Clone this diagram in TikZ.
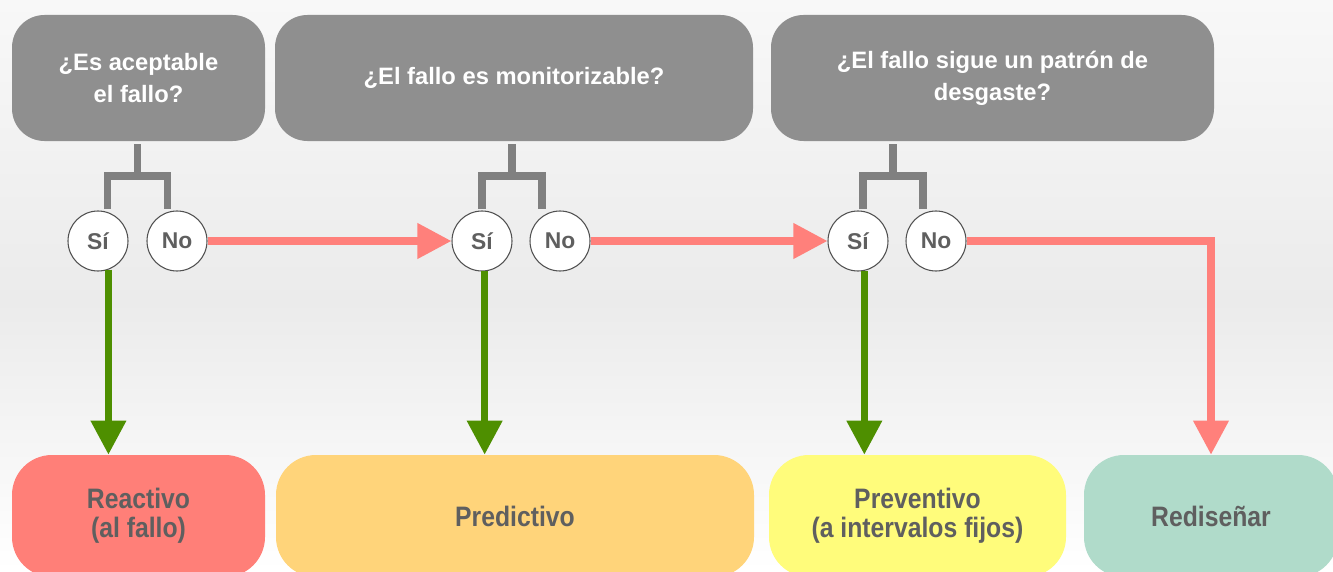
\documentclass[tikz,border=0pt]{standalone}
\usepackage{fontspec}
\setmainfont{Liberation Sans}
\newfontfamily\narrowfont[FakeStretch=0.88]{Liberation Sans}
\usetikzlibrary{arrows.meta}
\definecolor{askgray}{HTML}{8F8F8F}
\definecolor{forkgray}{HTML}{808080}
\definecolor{ringgray}{HTML}{505050}
\definecolor{txtgray}{HTML}{5F5F5F}
\definecolor{nored}{HTML}{FF807B}
\definecolor{yesgreen}{HTML}{4E8F00}
\definecolor{reactred}{HTML}{FF7F78}
\definecolor{predorange}{HTML}{FFD47A}
\definecolor{prevyellow}{HTML}{FFFC7B}
\definecolor{redgreen}{HTML}{B0DBCA}
\definecolor{bgtop}{HTML}{F8F8F8}
\definecolor{bgmid}{HTML}{EBEBEB}

\begin{document}
\begin{tikzpicture}[
	ask/.style={rectangle, rounded corners=0.65cm, fill=askgray, text=white, align=center,
		minimum height=2.52cm, font=\bfseries\fontsize{13.5}{18}\selectfont},
	ans/.style={circle, draw=ringgray, line width=0.6pt, fill=white, minimum size=1.2cm,
		inner sep=0pt, text=txtgray, font=\bfseries\fontsize{13}{15}\selectfont},
	goal/.style={rectangle, rounded corners=0.8cm, minimum height=2.44cm, text=txtgray,
		align=center, font=\narrowfont\bfseries\fontsize{16}{16.5}\selectfont},
	fork/.style={draw=forkgray, line width=4pt},
	yes/.style={draw=yesgreen, line width=4pt, -{Triangle[length=0.68cm,width=0.68cm]}},
	nope/.style={draw=nored, line width=4pt, -{Triangle[length=0.68cm,width=0.68cm]}}
	]
	\clip (0,0) rectangle (26.66,11.42);
	\shade[top color=bgtop, bottom color=bgmid] (0,5.4) rectangle (26.66,11.42);
	\shade[top color=bgmid, bottom color=white] (0,0) rectangle (26.66,5.4);
	
	% preguntas
	\node[ask, minimum width=5.06cm] (q1) at (2.77,9.86) {¿Es aceptable\\el fallo?};
	\node[ask, minimum width=9.56cm] (q2) at (10.28,9.86) {¿El fallo es monitorizable?};
	\node[ask, minimum width=8.86cm] (q3) at (19.85,9.86) {¿El fallo sigue un patrón de\\desgaste?};
	
	% respuestas
	\node[ans] (si1) at (1.96,6.60) {Sí};
	\node[ans] (no1) at (3.54,6.60) {No};
	\node[ans] (si2) at (9.64,6.60) {Sí};
	\node[ans] (no2) at (11.20,6.60) {No};
	\node[ans] (si3) at (17.16,6.60) {Sí};
	\node[ans] (no3) at (18.72,6.60) {No};
	
	% resultados
	\node[goal, fill=reactred, minimum width=5.06cm] (reactivo) at (2.77,1.10) {Reactivo\\(al fallo)};
	\node[goal, fill=predorange, minimum width=9.56cm] (predictivo) at (10.30,1.10) {Predictivo};
	\node[goal, fill=prevyellow, minimum width=5.94cm] (preventivo) at (18.35,1.10) {Preventivo\\(a intervalos fijos)};
	\node[goal, fill=redgreen, minimum width=5.08cm] (redisenar) at (24.22,1.10) {Rediseñar};
	
	% horquillas
	\foreach \i/\x in {1/2.75, 2/10.24, 3/17.86} {
		\coordinate (f\i) at (\x,7.90);
		\draw[fork] ([yshift=-0.06cm]q\i.south -| f\i) -- (f\i);
		\draw[fork] ([shift={(-0.6,-0.66)}]f\i) -- ++(0,0.66) -- ++(1.2,0) -- ++(0,-0.66);
	}
	
	% flechas
	\draw[nope] (no1) -- (si2);
	\draw[nope] (no2) -- (si3);
	\draw[nope] (no3) -| (redisenar);
	\draw[yes] (si1.-70) -- (si1.-70 |- reactivo.north);
	\draw[yes] (si2.-85) -- (si2.-85 |- predictivo.north);
	\draw[yes] (si3.-78) -- (si3.-78 |- preventivo.north);
\end{tikzpicture}
\end{document}
